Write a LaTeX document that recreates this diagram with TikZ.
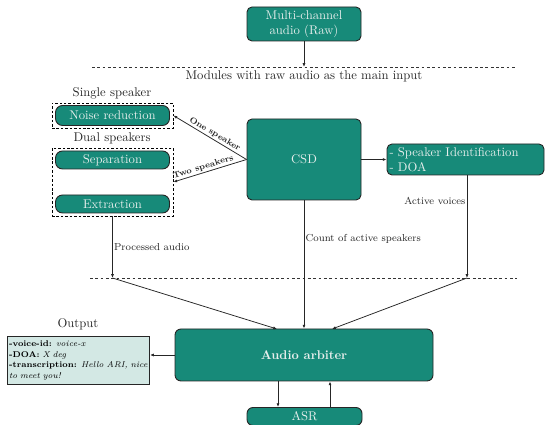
\documentclass[tikz,border=0pt]{standalone}
\usetikzlibrary{arrows.meta}
\definecolor{teal1}{HTML}{178A79}
\definecolor{boxtxt}{HTML}{E6EEEC}
\definecolor{outfill}{HTML}{D3E8E4}
\def\u{0.79pt}
\begin{document}
\begin{tikzpicture}[x=0.79pt,y=-0.79pt,
  box/.style={draw=black!85, line width=0.7pt, fill=teal1, text=boxtxt, rounded corners=5*\u, inner sep=0pt, align=center},
  pill/.style={box, rounded corners=7*\u},
  dbox/.style={draw=black, dashed, dash pattern=on 2pt off 1.5pt, line width=0.6pt, inner sep=0pt},
  sep/.style={draw=black!80, dashed, dash pattern=on 2.2pt off 2pt, line width=0.5pt},
  conn/.style={draw=black!85, line width=0.6pt},
  arr/.style={conn, -{Latex[length=3pt,width=2.4pt]}},
  lab/.style={font=\footnotesize, text=black!85, inner sep=1pt},
  slab/.style={font=\fontsize{6.6}{7}\selectfont\bfseries, sloped, above, inner sep=1pt, text=black!85},
  title/.style={text=black!85, inner sep=0pt}
]
\useasboundingbox (0,0) rectangle (545,425);

% top
\node[box, minimum width=114*\u, minimum height=34*\u] (mc) at (304,24) {Multi-channel\\audio (Raw)};
\coordinate (tl) at (92,67);
\coordinate (tr) at (517,67);
\coordinate (tj) at (304,67);
\draw[sep] (tl) -- (tr);
\draw[arr] (mc.south) -- (tj);
\node[title] (modlab) at (304,76) {Modules with raw audio as the main input};

% left modules
\node[title] (single) at (112,93) {Single speaker};
\node[dbox, minimum width=121*\u, minimum height=25*\u] (sbox) at (112.5,115.5) {};
\node[pill, minimum width=114*\u, minimum height=20*\u] (nr) at (112.5,115.5) {Noise reduction};
\node[title] (dual) at (112,138) {Dual speakers};
\node[dbox, minimum width=121*\u, minimum height=68*\u] (dubox) at (112.5,182) {};
\node[pill, minimum width=114*\u, minimum height=18*\u] (sepn) at (112.5,160) {Separation};
\node[pill, minimum width=114*\u, minimum height=18*\u] (ext) at (112.5,204) {Extraction};

% CSD
\node[box, minimum width=114*\u, minimum height=81*\u] (csd) at (304,159.5) {CSD};
\node[box, minimum height=31*\u, text width=152*\u, inner xsep=2.5*\u, align=left] (spk) at (465.5,159.5) {- Speaker Identification\\- DOA};
\draw[arr] (csd.east) -- (spk.west);
\draw[arr] (csd.west) -- node[slab, pos=0.47] {One speaker} (sbox.east);
\draw[arr] (csd.west) -- node[slab, pos=0.57] {Two speakers} (dubox.east);

% bottom separator
\coordinate (bl) at (90,278);
\coordinate (br) at (517,278);
\coordinate (pj) at (112.5,278);
\coordinate (aj) at (467,278);
\draw[sep] (bl) -- (br);

% arbiter
\node[box, font=\bfseries, minimum width=258*\u, minimum height=52*\u, rounded corners=6*\u] (arb) at (304,355) {Audio arbiter};
\coordinate (arbl) at (277,329);
\coordinate (arbr) at (332,329);

\draw[arr] (dubox.south) -- node[lab, right, pos=0.49] {Processed audio} (pj);
\draw[arr] (spk.south -| aj) -- node[lab, left, pos=0.25] {Active voices} (aj);
\draw[arr] (csd.south) -- node[lab, right, pos=0.3] {Count of active speakers} (arb.north);
\draw[arr] (pj) -- (arbl);
\draw[arr] (aj) -- (arbr);

% output
\node[title] (outlab) at (78,324) {Output};
\node[draw=black!85, line width=0.8pt, fill=outfill, font=\fontsize{6.6}{8.6}\selectfont, text width=139*\u, inner xsep=1.5*\u, inner ysep=2*\u, align=left, minimum height=48*\u, anchor=north west] (out) at (7,336)
  {\textbf{-voice-id:} \textit{voice-x}\\ \textbf{-DOA:} \textit{X deg}\\ \textbf{-transcription:} \textit{Hello ARI, nice to meet you!}};
\draw[arr] (arb.west) -- (arb.west -| out.east);

% ASR
\node[box, minimum width=115*\u, minimum height=18*\u, rounded corners=6*\u] (asr) at (304.5,416.5) {ASR};
\coordinate (d1) at (278,0);
\coordinate (d2) at (330,0);
\draw[arr] (arb.south -| d1) -- (asr.north -| d1);
\draw[arr] (asr.north -| d2) -- (arb.south -| d2);
\end{tikzpicture}
\end{document}
